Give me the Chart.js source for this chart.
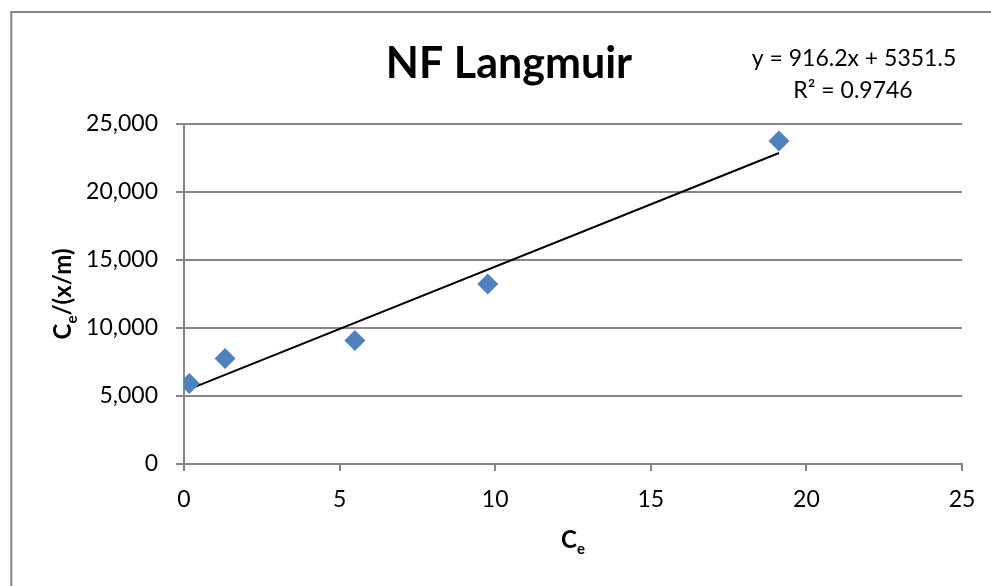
<!DOCTYPE html>
<html>
<head>
<meta charset="utf-8">
<script src="https://cdn.jsdelivr.net/npm/chart.js@4/dist/chart.umd.min.js"></script>
<style>
html,body{margin:0;padding:0;background:#ffffff;}
#wrap{width:991px;height:586px;position:relative;}
</style>
</head>
<body>
<div id="wrap"><canvas id="c" width="991" height="586"></canvas></div>
<script>
// ---- data ----
const chartTitle = "NF Langmuir";
const xAxisTitleParts = ["C", "e", ""];
const yAxisTitleParts = ["C", "e", "/(x/m)"];
const ceValues = [0.17, 1.32, 5.49, 9.76, 19.12];
const ratioValues = [5910, 7750, 9090, 13230, 23750];
const trendX = [0.17, 19.12];
const trendY = [5507, 22869];
const equationLines = ["y = 916.2x + 5351.5", "R² = 0.9746"];
const xTickValues = [0, 5, 10, 15, 20, 25];
const yTickValues = [0, 5000, 10000, 15000, 20000, 25000];

const FONT = "Lato, 'DejaVu Sans', sans-serif";
const GRID = "#868686";

const points = ceValues.map((x, i) => ({x: x, y: ratioValues[i]}));
const trend = trendX.map((x, i) => ({x: x, y: trendY[i]}));

const decorPlugin = {
  id: 'decor',
  afterDraw(chart) {
    const ctx = chart.ctx;
    const ca = chart.chartArea;
    ctx.save();
    // outer frame
    ctx.strokeStyle = GRID;
    ctx.lineWidth = 2;
    ctx.strokeRect(11.3, 12, 1200, 1200);
    ctx.fillStyle = "#000";
    // title
    ctx.font = "bold 43px " + FONT;
    ctx.textAlign = "center";
    ctx.textBaseline = "alphabetic";
    ctx.fillText(chartTitle, 509, 78);
    // trendline label
    ctx.font = "23px " + FONT;
    ctx.fillText(equationLines[0], 854, 66);
    ctx.fillText(equationLines[1], 853, 98);
    // axis titles with subscript
    const drawSub = (parts, cx, by) => {
      ctx.textAlign = "left";
      ctx.font = "bold 24px " + FONT;
      const w0 = ctx.measureText(parts[0]).width;
      const w2 = ctx.measureText(parts[2]).width;
      ctx.font = "bold 15px " + FONT;
      const w1 = ctx.measureText(parts[1]).width;
      let x = cx - (w0 + w1 + w2) / 2;
      ctx.font = "bold 24px " + FONT;
      ctx.fillText(parts[0], x, by);
      x += w0;
      ctx.font = "bold 15px " + FONT;
      ctx.fillText(parts[1], x, by + 6);
      x += w1;
      ctx.font = "bold 24px " + FONT;
      ctx.fillText(parts[2], x, by);
    };
    drawSub(xAxisTitleParts, (ca.left + ca.right) / 2, 548);
    ctx.save();
    ctx.translate(71, (ca.top + ca.bottom) / 2);
    ctx.rotate(-Math.PI / 2);
    drawSub(yAxisTitleParts, 0, 0);
    ctx.restore();
    ctx.restore();
  }
};

new Chart(document.getElementById('c'), {
  type: 'scatter',
  data: {
    datasets: [
      {
        label: 'Ce/(x/m)',
        data: points,
        pointStyle: 'rectRot',
        pointRadius: 10.5,
        pointHoverRadius: 10.5,
        backgroundColor: '#4f81bd',
        borderColor: '#4f81bd',
        borderWidth: 0,
        order: 1
      },
      {
        type: 'line',
        label: 'Linear trend',
        data: trend,
        borderColor: '#000000',
        borderWidth: 2,
        pointRadius: 0,
        fill: false,
        tension: 0,
        order: 2
      }
    ]
  },
  options: {
    responsive: false,
    animation: false,
    devicePixelRatio: 1,
    layout: {padding: {left: 0, top: 124, right: 29, bottom: 0}},
    plugins: {
      legend: {display: false},
      tooltip: {enabled: false},
      title: {display: false}
    },
    scales: {
      x: {
        type: 'linear',
        min: 0, max: 25,
        afterFit(s) { s.height = 122; },
        afterBuildTicks(s) { s.ticks = xTickValues.map(v => ({value: v})); },
        border: {display: true, color: GRID, width: 2},
        grid: {drawOnChartArea: false, drawTicks: true, tickLength: 7, color: GRID, lineWidth: 2},
        ticks: {color: '#000', font: {family: FONT, size: 23}, padding: 15, maxRotation: 0,
                callback: v => String(v)}
      },
      y: {
        type: 'linear',
        min: 0, max: 25000,
        afterFit(s) { s.width = 184; },
        afterBuildTicks(s) { s.ticks = yTickValues.map(v => ({value: v})); },
        border: {display: true, color: GRID, width: 2},
        grid: {drawOnChartArea: true, drawTicks: true, tickLength: 8, color: GRID, lineWidth: 2},
        ticks: {color: '#000', font: {family: FONT, size: 23}, padding: 18,
                callback: v => Number(v).toLocaleString('en-US')}
      }
    }
  },
  plugins: [decorPlugin]
});
</script>
</body>
</html>
